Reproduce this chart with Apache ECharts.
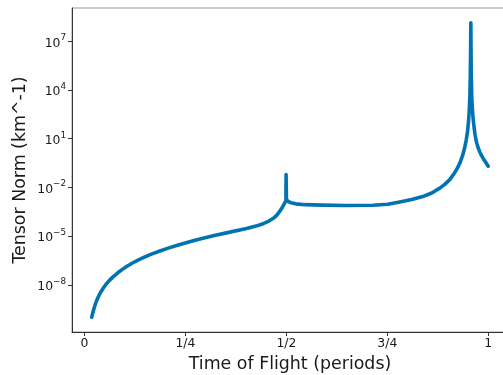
<!DOCTYPE html>
<html><head><meta charset="utf-8">
<script src="https://cdn.jsdelivr.net/npm/echarts@6/dist/echarts.min.js"></script>
<style>html,body{margin:0;padding:0;background:#fff}#c{width:503px;height:375px}</style>
</head><body><div id="c"></div>
<script>
// Time of flight (periods)
const timeOfFlight = [0.0178,0.0200,0.0228,0.0260,0.0297,0.0342,0.0396,0.0458,0.0532,0.0619,0.0713,0.0817,0.0928,0.1052,0.1188,0.1337,0.1498,0.1671,0.1869,0.2092,0.2364,0.2760,0.3188,0.3601,0.4015,0.4245,0.4426,0.4567,0.4678,0.4765,0.4839,0.4901,0.4950,0.4988,0.4993,0.5002,0.5037,0.5111,0.5235,0.5458,0.5903,0.6448,0.7141,0.7512,0.7809,0.8106,0.8379,0.8601,0.8800,0.8923,0.9047,0.9146,0.9233,0.9307,0.9369,0.9418,0.9455,0.9488,0.9512,0.9532,0.9547,0.9557,0.9564,0.9569,0.9574,0.9582,0.9594,0.9609,0.9626,0.9649,0.9673,0.9708,0.9748,0.9804,0.9876,0.9948,1.0];
// log10 of tensor norm (km^-1)
const normExponent = [-9.99,-9.77,-9.51,-9.25,-8.99,-8.73,-8.47,-8.22,-7.96,-7.72,-7.49,-7.27,-7.06,-6.85,-6.65,-6.46,-6.27,-6.09,-5.91,-5.72,-5.51,-5.23,-4.98,-4.75,-4.53,-4.38,-4.23,-4.07,-3.90,-3.70,-3.46,-3.22,-3.00,-2.82,-1.20,-2.72,-2.85,-2.94,-3.01,-3.06,-3.09,-3.11,-3.10,-3.03,-2.89,-2.74,-2.56,-2.34,-2.04,-1.81,-1.52,-1.18,-0.83,-0.44,-0.01,0.46,0.92,1.44,2.06,2.80,3.73,4.96,6.51,8.14,6.51,4.65,3.42,2.80,2.25,1.72,1.26,0.80,0.46,0.11,-0.22,-0.49,-0.69];
const xTickValues = [0, 0.25, 0.5, 0.75, 1];
const xTickLabels = ['0', '1/4', '1/2', '3/4', '1'];
const yTickExponents = [-8, -5, -2, 1, 4, 7];

const chart = echarts.init(document.getElementById('c'), null, {renderer: 'canvas'});
const font = 'DejaVu Sans';
const textColor = '#1a1a1a';
const axisColor = '#333';
chart.setOption({
  animation: false,
  backgroundColor: '#fff',
  grid: {left: 72, top: 8, width: 436, height: 324, containLabel: false, outerBoundsMode: 'none',
         show: true, borderColor: '#999', borderWidth: 1, backgroundColor: 'transparent'},
  xAxis: {
    type: 'value', min: -0.031, max: 1.049,
    splitLine: {show: false},
    axisLine: {show: true, onZero: false, lineStyle: {color: axisColor, width: 1}},
    axisTick: {show: true, customValues: xTickValues, length: 4, lineStyle: {color: axisColor}},
    axisLabel: {customValues: xTickValues, fontSize: 12.4, fontFamily: font, color: textColor, margin: 6,
      formatter: v => xTickLabels[Math.round(v * 4)]},
    name: 'Time of Flight (periods)', nameLocation: 'middle', nameGap: 24,
    nameTextStyle: {fontSize: 17.4, fontFamily: font, color: textColor}
  },
  yAxis: {
    type: 'value', min: -10.9, max: 9.05,
    splitLine: {show: false},
    axisLine: {show: true, onZero: false, lineStyle: {color: axisColor, width: 1}},
    axisTick: {show: true, customValues: yTickExponents, length: 4, lineStyle: {color: axisColor}},
    axisLabel: {customValues: yTickExponents, margin: 6, color: textColor,
      formatter: v => '{b|10}{s|' + (v < 0 ? '\u2212' + (-v) : v) + '}',
      rich: {
        b: {fontSize: 12.4, fontFamily: font, color: textColor, lineHeight: 16, verticalAlign: 'bottom'},
        s: {fontSize: 8.8, fontFamily: font, color: textColor, lineHeight: 9, verticalAlign: 'top'}
      }},
    name: 'Tensor Norm (km^-1)', nameLocation: 'middle', nameGap: 43, nameMoveOverlap: false,
    nameTextStyle: {fontSize: 17.4, fontFamily: font, color: textColor}
  },
  series: [{
    type: 'line',
    data: timeOfFlight.map((x, i) => [x, normExponent[i]]),
    showSymbol: false, symbol: 'none',
    lineStyle: {color: '#0173b2', width: 3.6, cap: 'round', join: 'round'},
    clip: true
  }]
});
</script>
</body></html>
